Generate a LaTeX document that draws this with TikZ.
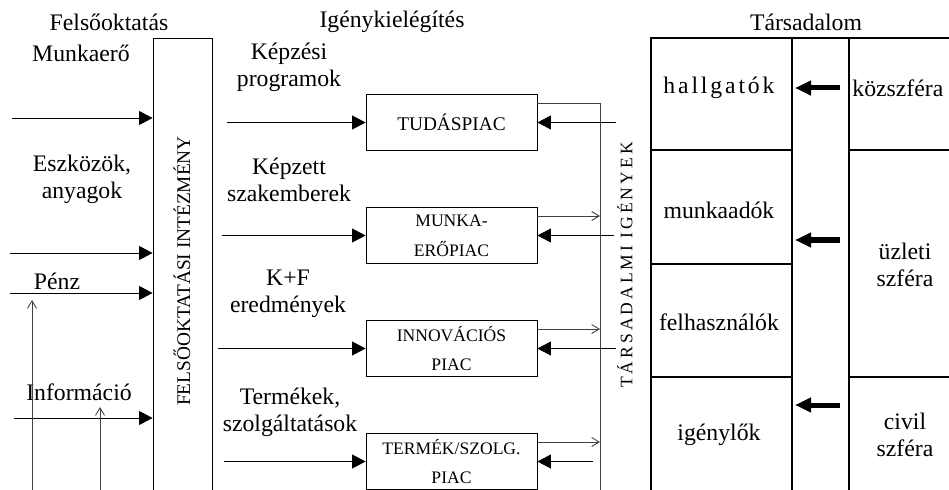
\documentclass[tikz,border=0pt]{standalone}
\usepackage{fontspec}
\setmainfont{Liberation Serif}
\usetikzlibrary{arrows.meta,positioning}

\begin{document}
\begin{tikzpicture}[x=0.2mm, y=-0.2mm, node distance=22.6mm, line width=0.5pt,
  lbl/.style={font=\fontsize{13.5}{15.5}\selectfont, align=center, inner sep=0pt},
  piac/.style={draw, minimum width=34.2mm, minimum height=11.3mm, align=center, inner sep=0pt, font=\fontsize{10}{17}\selectfont},
  be/.style={-{Triangle[length=2.7mm,width=2.8mm]}},
  ki/.style={-{Straight Barb[length=1.5mm,width=1.8mm]}, black!75},
  vastag/.style={line width=1mm, -{Triangle[length=3.2mm,width=2.8mm]}},
  racs/.style={line width=1.1pt}]
\useasboundingbox (0,0) rectangle (949,490);
\clip (0,0) rectangle (949,490);

% titles
\node[lbl] (felso) at (109,22) {Felsőoktatás};
\node[lbl] (igeny) at (392,22) {Igénykielégítés};
\node[lbl] (tars) at (806,22) {Társadalom};

% higher education institution
\node[draw, minimum width=11.8mm, minimum height=100mm, anchor=north] (intezmeny) at (182.5,38) {};
\node[font=\fontsize{11}{13}\selectfont, rotate=90] (intlbl) at (182,271) {FELSŐOKTATÁSI INTÉZMÉNY};

\node[lbl] (munkaero) at (81,53) {Munkaerő};
\node[lbl] (eszkoz) at (82,179) {Eszközök,\\anyagok};
\node[lbl] (penz) at (57,281) {Pénz};
\node[lbl] (info) at (79,392) {Információ};

\foreach \y/\x [count=\i] in {118/12, 253/10, 293/10, 418/14} {
  \coordinate (be\i) at (\x,\y);
  \draw[be] (be\i) -- (be\i -| intezmeny.west);
}
\coordinate (fel1) at (32,490); \coordinate (fel1v) at (32,300);
\coordinate (fel2) at (100,490); \coordinate (fel2v) at (100,407);
\draw[ki] (fel1) -- (fel1v);
\draw[ki] (fel2) -- (fel2v);

% markets
\node[piac, font=\fontsize{11}{17}\selectfont] (tudas) at (451.5,122.5) {TUDÁSPIAC};
\node[piac] (munka) [below of=tudas] {MUNKA-\\ERŐPIAC};
\node[piac] (innov) [below of=munka] {INNOVÁCIÓS\\PIAC};
\node[piac] (termek) [below of=innov] {TERMÉK/SZOLG.\\PIAC};

\node[lbl] (kepzesi) at (289,67) {Képzési\\programok};
\node[lbl] (kepzett) at (289,180) {Képzett\\szakemberek};
\node[lbl] (kf) at (288,294) {K+F\\eredmények};
\node[lbl] (termekek) at (290,412) {Termékek,\\szolgáltatások};

\foreach \b/\x in {tudas/227, munka/222, innov/218, termek/224} {
  \coordinate (\b be) at (\x,0 |- \b.west);
  \draw[be] (\b be) -- (\b.west);
}

% social needs
\coordinate (igalj) at (600,495);
\draw[black!75] ([yshift=3.9mm]tudas.east) -| (igalj);
\foreach \b in {munka, innov, termek}
  \draw[ki] ([yshift=3.9mm]\b.east) coordinate (k) -- (k -| igalj);
\foreach \b/\x in {tudas/616, munka/614, innov/616, termek/593} {
  \coordinate (\b ig) at (\x,0 |- \b.east);
  \draw[be] (\b ig) -- (\b.east);
}
\node[font=\fontsize{10}{12}\selectfont, rotate=90] (iglbl) at (625,265) {\addfontfeature{LetterSpace=17}TÁRSADALMI IGÉNYEK};

% society table
\draw[racs] (949,38) -- (651,38) -- (651,495);
\draw[racs] (792,38) -- (792,495) (849,38) -- (849,495);
\foreach \y in {150,264,377} \draw[racs] (651,\y) -- (792,\y);
\foreach \y in {150,377} \draw[racs] (849,\y) -- (949,\y);

\node[lbl] (hallg) at (719,88) {\addfontfeature{LetterSpace=12}hallgatók};
\node[lbl] (munkaado) at (719,210) {munkaadók};
\node[lbl] (felhaszn) at (719,322) {felhasználók};
\node[lbl] (igenylo) at (719,435) {igénylők};
\node[lbl, anchor=west] (kozszf) at (852,88) {közszféra};
\node[lbl] (uzleti) at (905,265) {üzleti\\szféra};
\node[lbl] (civil) at (905,435) {civil\\szféra};

\foreach \y [count=\i] in {88,240,405} {
  \coordinate (v\i) at (840,\y);
  \coordinate (w\i) at (795,\y);
  \draw[vastag] (v\i) -- (w\i);
}
\end{tikzpicture}
\end{document}
